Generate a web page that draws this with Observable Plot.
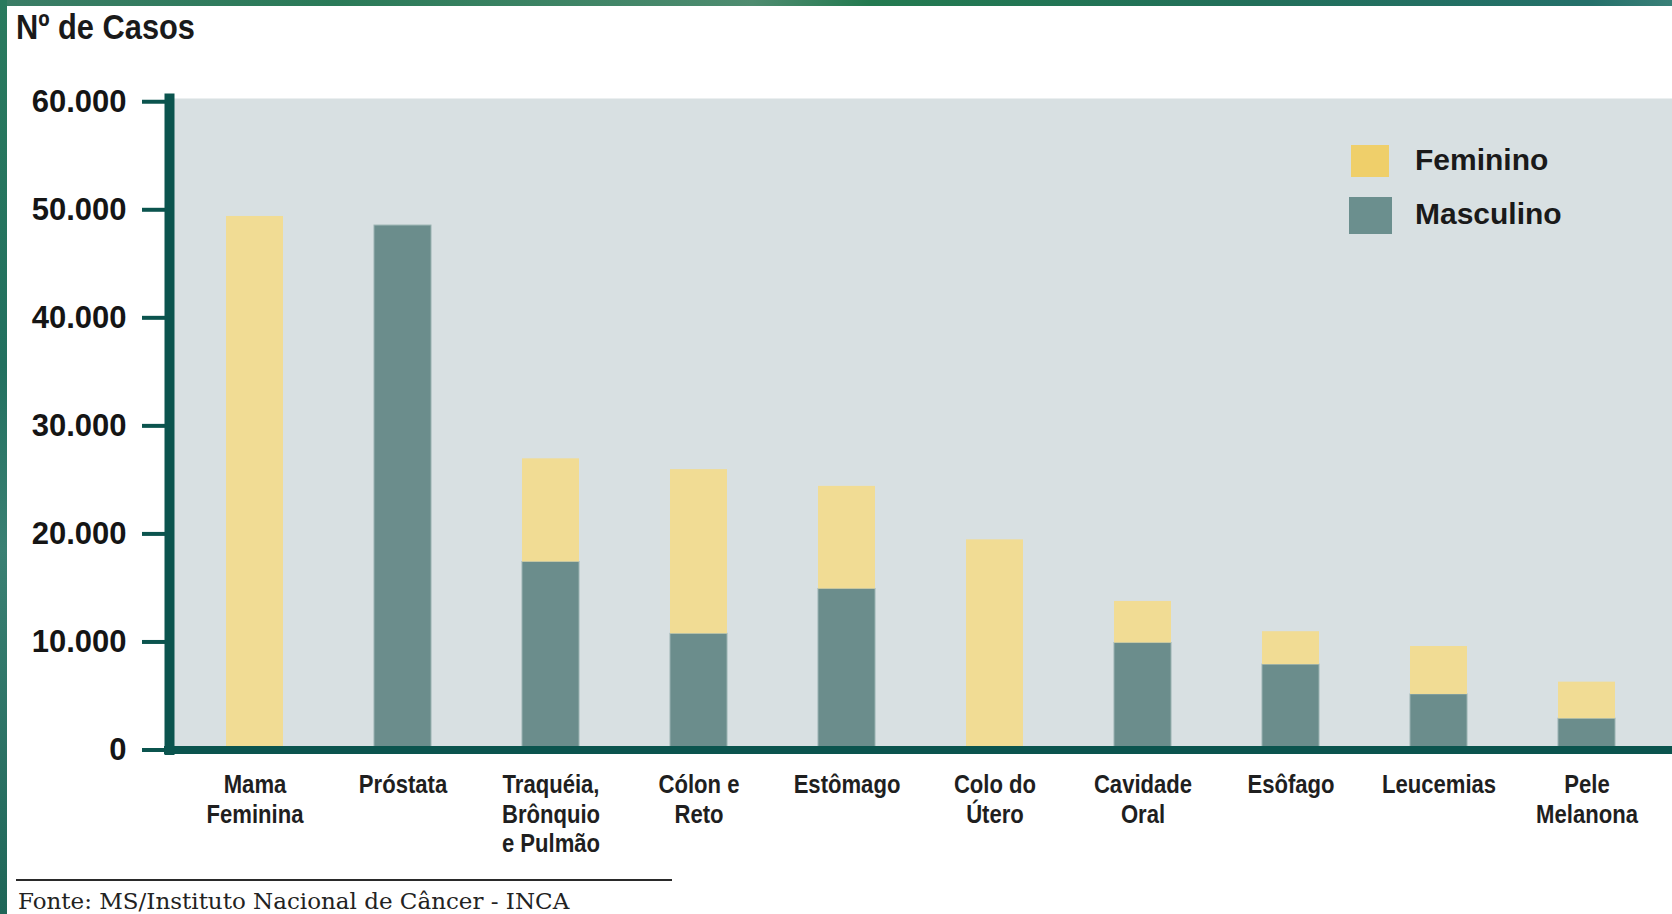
<!DOCTYPE html>
<html><head><meta charset="utf-8">
<script src="https://cdn.jsdelivr.net/npm/d3@7"></script>
<script src="https://cdn.jsdelivr.net/npm/@observablehq/plot@0.6"></script>
<style>
html,body{margin:0;padding:0;background:#fff;}
#wrap{position:relative;width:1672px;height:914px;overflow:hidden;background:#fff;}
#chart{position:absolute;left:0;top:0;}
#topband{position:absolute;left:0;top:0;width:1672px;height:6px;background:linear-gradient(90deg,#3b7d66 0%,#2a7a58 20%,#4f8c70 45%,#237a50 52%,#226f5a 75%,#24706a 95%,#3a8078 100%);}
#leftband{position:absolute;left:0;top:0;width:7px;height:914px;background:linear-gradient(180deg,#2a7a5e 0%,#22705f 40%,#3a8073 60%,#1f6658 100%);}
#title{position:absolute;left:16px;top:7px;font-family:"Liberation Sans",Arial,sans-serif;font-weight:bold;font-size:35px;color:#1a1a1a;line-height:40px;transform:scaleX(0.88);transform-origin:0 0;white-space:nowrap;}
.sw{position:absolute;}
.lg{position:absolute;font-family:"Liberation Sans",Arial,sans-serif;font-weight:bold;font-size:30px;color:#1a1a1a;line-height:30px;}
#rule{position:absolute;left:16px;top:879px;width:656px;height:2px;background:#2a2a2a;}
#fonte{position:absolute;left:18px;top:888px;font-family:"DejaVu Serif","Liberation Serif",serif;font-size:23px;color:#222;line-height:26px;white-space:nowrap;}
</style>
</head><body>
<div id="wrap">
  <div id="chart"></div>
  <div id="topband"></div>
  <div id="leftband"></div>
  <div id="title">Nº de Casos</div>
  <div id="legend"></div>
  <div id="rule"></div>
  <div id="fonte">Fonte: MS/Instituto Nacional de Câncer - INCA</div>
</div>
<script>
const categories = ["Mama\nFeminina", "Próstata", "Traquéia,\nBrônquio\ne Pulmão", "Cólon e\nReto", "Estômago", "Colo do\nÚtero", "Cavidade\nOral", "Esôfago", "Leucemias", "Pele\nMelanona"];
const masculino = [0, 48540, 17400, 10750, 14900, 0, 9900, 7900, 5140, 2890];
const feminino  = [49380, 0, 9550, 15200, 9500, 19450, 3850, 3050, 4440, 3390];
const yTicks = [0, 10000, 20000, 30000, 40000, 50000, 60000];
const seriesNames = ["Feminino", "Masculino"];
const seriesColors = ["#f1dc94", "#6b8d8c"];
const swatchColors = ["#efcf6a", "#6b8f8e"];

const rows = categories.map((c, i) => ({cat: c, masc: masculino[i], fem: feminino[i]}));
const fmt = d3.formatLocale({decimal: ",", thousands: ".", grouping: [3], currency: ["", ""]}).format(",");
const axisColor = "#0b544e";

const chart = Plot.plot({
  width: 1672, height: 914,
  marginLeft: 169, marginRight: 0, marginTop: 98, marginBottom: 164.5,
  style: {background: "transparent", fontFamily: "'Liberation Sans', Arial, sans-serif"},
  x: {domain: categories, paddingInner: 0.613, paddingOuter: 0.365, label: null},
  y: {domain: [0, 60300], label: null},
  marks: [
    Plot.frame({fill: "#d8e0e2", stroke: null}),
    Plot.barY(rows.filter(d => d.masc > 0), {x: "cat", y1: 0, y2: "masc", fill: seriesColors[1], stroke: "#9ab2b1", strokeWidth: 1}),
    Plot.barY(rows.filter(d => d.fem > 0), {x: "cat", y1: "masc", y2: d => d.masc + d.fem, fill: seriesColors[0]}),
    Plot.axisY({ticks: yTicks, tickSize: 27, tickFormat: () => "", color: axisColor, strokeWidth: 4, label: null}),
    Plot.axisY({ticks: yTicks, tickSize: 0, tickPadding: 43, tickFormat: fmt, color: "#151515", fontSize: 31, fontWeight: "bold", label: null}),
    Plot.axisX({tickSize: 0, tickPadding: 22, color: "#1f1f1f", fontSize: 26, lineHeight: 1.14, fontWeight: "bold",
      fontFamily: "'Liberation Sans', Arial, sans-serif", label: null}),
    Plot.ruleY([0], {stroke: axisColor, strokeWidth: 8, insetLeft: -5}),
    Plot.frame({anchor: "left", stroke: axisColor, strokeWidth: 10})
  ]
});
document.getElementById("chart").appendChild(chart);

// condense the x-axis labels horizontally (narrow typeface look)
chart.querySelectorAll('g[aria-label^="x-axis"] text').forEach(t => {
  const tr = t.getAttribute("transform");
  if (tr) {
    t.setAttribute("transform", tr + " scale(0.85,1)");
  } else {
    const x = t.getAttribute("x");
    if (x !== null && !isNaN(+x)) {
      t.removeAttribute("x");
      t.setAttribute("transform", `translate(${+x},0) scale(0.85,1)`);
    }
  }
});

// legend
const legend = document.getElementById("legend");
const swPos = [{l: 1351, t: 145, w: 38, h: 32, ty: 145}, {l: 1349, t: 197, w: 43, h: 37, ty: 199}];
seriesNames.forEach((name, i) => {
  const sw = document.createElement("div");
  sw.className = "sw";
  Object.assign(sw.style, {left: swPos[i].l + "px", top: swPos[i].t + "px", width: swPos[i].w + "px", height: swPos[i].h + "px", background: swatchColors[i]});
  legend.appendChild(sw);
  const t = document.createElement("div");
  t.className = "lg";
  t.textContent = name;
  Object.assign(t.style, {left: "1415px", top: swPos[i].ty + "px"});
  legend.appendChild(t);
});
</script>
</body></html>
